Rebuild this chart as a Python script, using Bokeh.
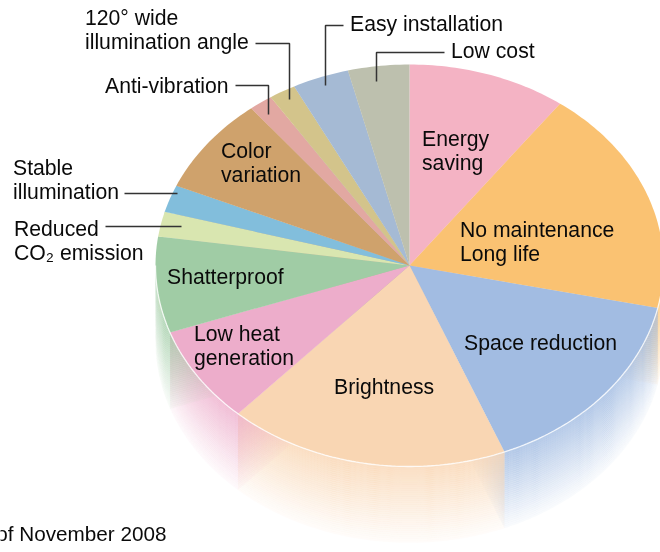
import numpy as np
from bokeh.embed import file_html
from bokeh.models import ColumnDataSource, Range1d
from bokeh.plotting import figure
from bokeh.resources import INLINE
from bokeh.core.properties import value

# --- data, clockwise from 12 o'clock (share in percent) ---
categories = ["Energy saving", "No maintenance / Long life", "Space reduction", "Brightness",
              "Low heat generation", "Shatterproof", "Reduced CO2 emission", "Stable illumination",
              "Color variation", "Anti-vibration", "120° wide illumination angle",
              "Easy installation", "Low cost"]
shares = [10.1, 18.3, 15.5, 17.9, 7.8, 7.7, 2.0, 2.2, 7.8, 1.5, 1.7, 3.6, 3.8]
colors = ["#F4B3C4", "#FAC272", "#A2BCE2", "#F9D6B3", "#EDADCB", "#A0CCA5", "#D9E6B0",
          "#82BEDC", "#CFA26C", "#E2A8A2", "#D3C48B", "#A5BAD4", "#BDC0AE"]
note = "As of November 2008"

inside_labels = [("Energy", 422, 146), ("saving", 422, 170), ("No maintenance", 460, 237),
                 ("Long life", 460, 261), ("Space reduction", 464, 350), ("Brightness", 334, 394),
                 ("Low heat", 194, 341), ("generation", 194, 365), ("Shatterproof", 167, 284),
                 ("Color", 221, 158), ("variation", 221, 182)]
outside_labels = [("120° wide", 85, 25), ("illumination angle", 85, 49), ("Easy installation", 350, 31),
                  ("Low cost", 451, 58), ("Anti-vibration", 105, 93), ("Stable", 13, 175),
                  ("illumination", 13, 199), ("Reduced", 14, 236), ("CO₂ emission", 14, 260)]
leaders = [([255, 289, 289], [43, 43, 99]), ([343, 325, 325], [25, 25, 85]),
           ([444, 376, 376], [52, 52, 81]), ([235, 268, 268], [85, 85, 114]),
           ([124, 177], [193, 193]), ([105, 181], [226, 226])]

# --- layout ---
W, H = 660, 552
CX, CY, RX, RY = 409, 265, 254, 201
DEPTH, LAYERS = 76, 38
FONT = value("Liberation Sans")
FS = "21.2px"
TEXT_DY = -8.5
TEXT_DX = -0.5


def pt(deg):
    t = np.radians(deg)
    return CX + RX * np.sin(t), CY - RY * np.cos(t)


def polar(x, y):
    return np.degrees(np.arctan2((x - CX) / RX, (CY - y) / RY)) % 360


edges = np.concatenate([[0], np.cumsum(shares) * 3.6])
edges[-1] = 360

p = figure(width=W, height=H, output_backend="svg", toolbar_location=None, min_border=0,
           x_range=Range1d(0, W), y_range=Range1d(H, 0),
           styles={"position": "fixed", "left": "0px", "top": "0px"})
p.axis.visible = False
p.grid.visible = False
p.outline_line_color = None
p.background_fill_color = "white"

# swept side walls
sx, sy, sc, sa = [], [], [], []
for k, col in enumerate(colors):
    a, b = edges[k], edges[k + 1]
    chains = []
    lo, hi = max(a, 90), min(b, 270)
    if hi > lo:
        th = np.linspace(lo, hi, max(3, int((hi - lo) / 1.5)))
        chains.append(pt(th))
    for e in (a, b):
        ex, ey = pt(e)
        mx, my = (CX + ex) / 2, (CY + ey) / 2 - 1.0
        if a <= polar(mx, my) <= b:
            chains.append((np.array([CX, ex]), np.array([CY, ey])))
    for cx_, cy_ in chains:
        for i in range(LAYERS):
            d0, d1 = DEPTH * i / LAYERS, DEPTH * (i + 1) / LAYERS + 0.3
            t = (i + 0.5) / LAYERS
            sx.append(np.concatenate([cx_, cx_[::-1]]).tolist())
            sy.append(np.concatenate([cy_ + d0, cy_[::-1] + d1]).tolist())
            sc.append(col)
            sa.append(0.72 * (1 - t) ** 1.15 + 0.06)
p.patches("x", "y", source=ColumnDataSource(dict(x=sx, y=sy, c=sc, a=sa)),
          fill_color="c", fill_alpha="a", line_color=None)

# top surface
tx, ty = [], []
for k in range(len(shares)):
    th = np.linspace(edges[k], edges[k + 1], max(3, int((edges[k + 1] - edges[k]) / 1.0)))
    x, y = pt(th)
    tx.append([CX] + x.tolist())
    ty.append([CY] + y.tolist())
p.patches("x", "y", source=ColumnDataSource(dict(x=tx, y=ty, c=colors, n=categories)),
          fill_color="c", line_color=None)

# white rim
rx_, ry_ = pt(np.linspace(90, 270, 200))
p.line(rx_, ry_, line_color="white", line_width=1.3, line_alpha=0.8)

# leaders
for lx, ly in leaders:
    p.line(lx, ly, line_color="#333333", line_width=1.5)

# texts
labels = inside_labels + outside_labels
p.text([l[1] + TEXT_DX for l in labels], [l[2] + TEXT_DY for l in labels], text=[l[0] for l in labels],
       text_font=FONT, text_font_size=FS, text_color="#0a0a0a", text_baseline="alphabetic")
p.text([166], [541 + TEXT_DY], text=[note], text_font=FONT, text_font_size="20.7px", text_color="#0a0a0a",
       text_align="right", text_baseline="alphabetic")

open("out.html", "w").write(file_html(p, INLINE))
